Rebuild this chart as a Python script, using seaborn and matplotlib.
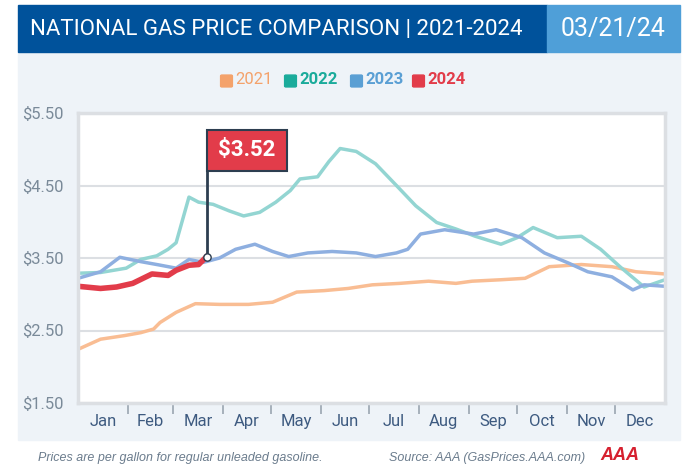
import numpy as np
import pandas as pd
import matplotlib
matplotlib.use("Agg")
import matplotlib.pyplot as plt
from matplotlib.patches import Rectangle, FancyBboxPatch
import seaborn as sns

days_2021 = [0,14,29,39,47,51,61,73,88,106,121,136,153,168,183,200,218,235,245,263,278,293,313,332,347,365]
vals_2021 = [2.24,2.38,2.43,2.47,2.52,2.61,2.75,2.87,2.86,2.86,2.89,3.03,3.05,3.08,3.13,3.15,3.18,3.15,3.18,3.20,3.22,3.38,3.41,3.38,3.31,3.28]
days_2022 = [0,14,30,39,49,56,61,69,75,84,94,103,113,123,132,138,149,156,163,173,185,198,210,223,235,247,263,273,283,298,313,325,337,352,365]
vals_2022 = [3.29,3.30,3.36,3.48,3.53,3.62,3.71,4.34,4.27,4.24,4.15,4.08,4.13,4.27,4.43,4.59,4.62,4.83,5.01,4.97,4.80,4.50,4.22,3.99,3.90,3.80,3.69,3.78,3.92,3.78,3.80,3.62,3.38,3.10,3.20]
days_2023 = [0,14,26,39,49,61,69,78,88,98,110,121,131,143,158,173,185,198,205,213,228,246,260,276,290,305,317,332,345,352,365]
vals_2023 = [3.22,3.31,3.51,3.45,3.41,3.36,3.48,3.44,3.50,3.62,3.69,3.59,3.52,3.57,3.59,3.57,3.52,3.57,3.62,3.83,3.89,3.83,3.89,3.78,3.57,3.43,3.31,3.24,3.06,3.13,3.11]
days_2024 = [0,14,24,34,46,56,61,69,75,80]
vals_2024 = [3.11,3.08,3.10,3.15,3.28,3.26,3.33,3.40,3.41,3.52]
current_price = 3.52
years = ["2021","2022","2023","2024"]
month_labels = ["Jan","Feb","Mar","Apr","May","Jun","Jul","Aug","Sep","Oct","Nov","Dec"]
month_starts = [0,31,59,90,120,151,181,212,243,273,304,334,365]
y_ticks = [1.5,2.5,3.5,4.5,5.5]

frames = []
for yr, d, v in zip(years, [days_2021,days_2022,days_2023,days_2024], [vals_2021,vals_2022,vals_2023,vals_2024]):
    frames.append(pd.DataFrame({"day": d, "price": v, "year": yr}))
df = pd.concat(frames)

line_cols = {"2021":"#f9bd93","2022":"#93d5d2","2023":"#8eafe0","2024":"#e23c4a"}
leg_cols = {"2021":"#f4a26b","2022":"#1aab9b","2023":"#5a9fd4","2024":"#e23c4a"}
plt.rcParams["font.family"] = ["Roboto", "Liberation Sans", "DejaVu Sans"]

W, H = 700, 471
fig = plt.figure(figsize=(7, 4.71), dpi=100)
fig.patch.set_facecolor("white")
def fx(px): return px / W
def fy(py): return 1 - py / H

def frect(x0, y1, w, h, color):
    fig.patches.append(Rectangle((fx(x0), fy(y1)), fx(w), h / H, transform=fig.transFigure, color=color, zorder=-10))

frect(18, 440, 662, 440 - 52, "#eef3f8")
frect(18, 52, 529, 47, "#00529b")
frect(547, 52, 133, 47, "#4f9fd8")
fig.text(fx(30), fy(29), "NATIONAL GAS PRICE COMPARISON | 2021-2024", color="white", fontsize=16, va="center", ha="left")
fig.text(fx(613), fy(29), "03/21/24", color="white", fontsize=18, va="center", ha="center")

lx = [222, 286, 352, 414]
for x0, yr in zip(lx, years):
    fig.patches.append(FancyBboxPatch((fx(x0), fy(86)), fx(9), 10 / H, boxstyle="round,pad=0.002",
                                      transform=fig.transFigure, color=leg_cols[yr], zorder=-5))
    fig.text(fx(x0 + 13), fy(80), yr, color=leg_cols[yr], fontsize=12, va="center", ha="left",
             weight="bold" if yr != "2021" else "normal")

ax = fig.add_axes([fx(78), fy(403), fx(665 - 78), (403 - 113) / H])
ax.set_facecolor("white")
sns.lineplot(data=df[df.year != "2024"], x="day", y="price", hue="year", palette=line_cols, lw=2.5, ax=ax, legend=False)
sns.lineplot(data=df[df.year == "2024"], x="day", y="price", color=line_cols["2024"], lw=4, ax=ax, legend=False)
ax.set_xlim(0, 365)
ax.set_ylim(1.5, 5.5)
ax.set_yticks(y_ticks)
ax.set_yticklabels([f"${t:.2f}" for t in y_ticks], color="#7a8a99", fontsize=12)
ax.grid(axis="y", color="#dcdfe3", lw=1.5)
ax.set_axisbelow(True)
ax.set_xticks(month_starts[1:-1])
ax.set_xticklabels([])
ax.set_xticks([(a + b) / 2 for a, b in zip(month_starts[:-1], month_starts[1:])], minor=True)
ax.set_xticklabels(month_labels, minor=True, color="#3d5a80", fontsize=12)
ax.tick_params(axis="x", which="major", length=8, color="#9aa5b1", width=1.2, direction="out")
ax.tick_params(axis="x", which="minor", length=0, pad=8)
ax.tick_params(axis="y", length=0, pad=10)
ax.set_xlabel(""); ax.set_ylabel("")
for s in ax.spines.values():
    s.set_color("#dcdfe3"); s.set_linewidth(2.5)

x_flag = days_2024[-1]
ax.plot([x_flag, x_flag], [current_price, 5.27], color="#2d3e50", lw=2, zorder=5)
ax.add_patch(Rectangle((x_flag, 4.70), 50, 0.57, facecolor="#e23c4a", edgecolor="#2d3e50", lw=1.5, zorder=6))
ax.text(x_flag + 25, 4.985, f"${current_price:.2f}", color="white", fontsize=16, weight="bold", ha="center", va="center", zorder=7)
ax.scatter([x_flag], [current_price], s=28, facecolor="white", edgecolor="#2d3e50", zorder=8, lw=1)

fig.text(fx(38), fy(458), "Prices are per gallon for regular unleaded gasoline.", color="#6b7c8d", style="italic", fontsize=9, va="center", family="Liberation Sans")
fig.text(fx(585), fy(458), "Source: AAA (GasPrices.AAA.com)", color="#6b7c8d", style="italic", fontsize=9, va="center", ha="right", family="Liberation Sans")
fig.text(fx(620), fy(455), "AAA", color="#d6202f", fontsize=13, weight="bold", style="italic", va="center", ha="center", family="Liberation Sans")

fig.savefig("out.png", dpi=100)
